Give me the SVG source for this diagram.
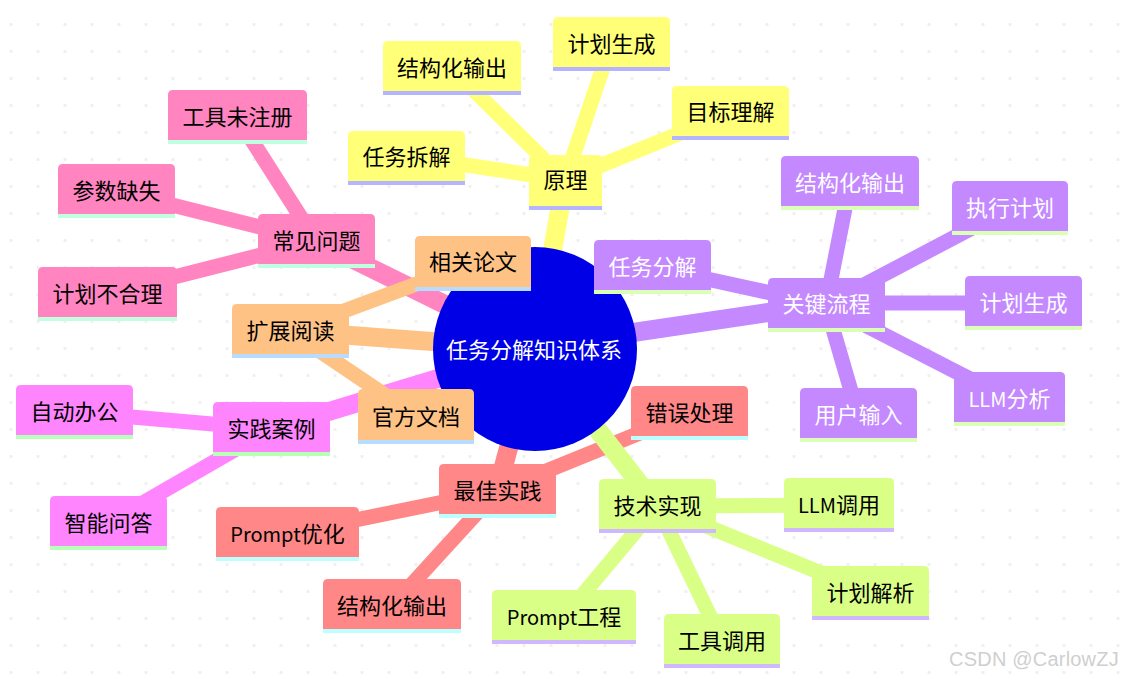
<svg xmlns="http://www.w3.org/2000/svg" width="1122" height="678" viewBox="0 0 1122 678">
<style>
text{font-family:"Noto Sans CJK SC","Noto Sans",sans-serif;font-size:22px;text-anchor:middle;fill:#000}
.lat{font-size:20px}
.e{fill:none;stroke-linecap:butt}
.l1{stroke-width:19}.l2{stroke-width:15}
.y .b{fill:#ffff78}.y .s{fill:#b4b4ff}
.p .b{fill:#c489ff}.p .s{fill:#dcffb8}.p text{fill:#fff}
.k .b{fill:#ff84c0}.k .s{fill:#c0ffe0}
.o .b{fill:#ffc285}.o .s{fill:#b8dcff}
.m .b{fill:#ff85ff}.m .s{fill:#b8ffb8}
.r .b{fill:#ff8787}.r .s{fill:#bbffff}
.g .b{fill:#d9ff87}.g .s{fill:#d0b8ff}
.ey{stroke:#ffff78}.ep{stroke:#c489ff}.ek{stroke:#ff84c0}.eo{stroke:#ffc285}.em{stroke:#ff85ff}.er{stroke:#ff8787}.eg{stroke:#d9ff87}
</style>
<defs>
<pattern id="dots" width="27" height="27" patternUnits="userSpaceOnUse" x="-2.5" y="-4"><rect x="12" y="0" width="3" height="3" fill="#f0f0f0"/></pattern>
</defs>
<rect width="1122" height="678" fill="#fff"/>
<rect width="1122" height="678" fill="url(#dots)"/>
<g id="connectors">
<line class="e l1 ey" x1="535" y1="349" x2="565" y2="180"/>
<line class="e l2 ey" x1="565" y1="180" x2="406" y2="156"/>
<line class="e l2 ey" x1="565" y1="180" x2="451" y2="68"/>
<line class="e l2 ey" x1="565" y1="180" x2="611" y2="44"/>
<line class="e l2 ey" x1="565" y1="180" x2="730" y2="113"/>
<line class="e l1 ep" x1="535" y1="347" x2="826" y2="304"/>
<line class="e l2 ep" x1="826" y1="305" x2="652" y2="267"/>
<line class="e l2 ep" x1="826" y1="305" x2="850" y2="183"/>
<line class="e l2 ep" x1="826" y1="305" x2="1010" y2="208"/>
<line class="e l2 ep" x1="826" y1="303" x2="1023" y2="303"/>
<line class="e l2 ep" x1="826" y1="305" x2="1009" y2="399"/>
<line class="e l2 ep" x1="826" y1="305" x2="858" y2="415"/>
<line class="e l1 ek" x1="535" y1="349" x2="316" y2="241"/>
<line class="e l2 ek" x1="316" y1="241" x2="237" y2="117"/>
<line class="e l2 ek" x1="316" y1="241" x2="116" y2="191"/>
<line class="e l2 ek" x1="316" y1="241" x2="107" y2="294"/>
<line class="e l1 em" x1="535" y1="349" x2="271" y2="429"/>
<line class="e l2 em" x1="271" y1="429" x2="74" y2="412"/>
<line class="e l2 em" x1="271" y1="429" x2="108" y2="523"/>
<line class="e l1 eo" x1="535" y1="349" x2="290" y2="331"/>
<line class="e l2 eo" x1="290" y1="331" x2="473" y2="263"/>
<line class="e l2 eo" x1="290" y1="331" x2="416" y2="416"/>
<line class="e l1 er" x1="535" y1="349" x2="497" y2="491"/>
<line class="e l2 er" x1="497" y1="491" x2="689" y2="413"/>
<line class="e l2 er" x1="497" y1="491" x2="287" y2="534"/>
<line class="e l2 er" x1="497" y1="491" x2="392" y2="606"/>
<line class="e l1 eg" x1="535" y1="349" x2="657" y2="506"/>
<line class="e l2 eg" x1="657" y1="506" x2="839" y2="505"/>
<line class="e l2 eg" x1="657" y1="506" x2="870" y2="593"/>
<line class="e l2 eg" x1="657" y1="506" x2="722" y2="641"/>
<line class="e l2 eg" x1="657" y1="506" x2="564" y2="617"/>
</g>
<g id="root"><circle cx="535" cy="349" r="102" fill="#0000e6"/><text x="534" y="358" style="fill:#fff">任务分解知识体系</text></g>
<g id="n-yuanli" class="y" transform="translate(529,155)"><path class="b" d="M0 51V5q0-5 5-5h63q5 0 5 5v46z"/><rect class="s" y="51" width="73" height="4"/><text x="36.500" y="33">原理</text></g>
<g id="n-rwcj" class="y" transform="translate(348,131)"><path class="b" d="M0 50V5q0-5 5-5h107q5 0 5 5v45z"/><rect class="s" y="50" width="117" height="4"/><text x="58.500" y="34">任务拆解</text></g>
<g id="n-jgh1" class="y" transform="translate(383,41)"><path class="b" d="M0 50V5q0-5 5-5h128q5 0 5 5v45z"/><rect class="s" y="50" width="138" height="4"/><text x="69" y="34.500">结构化输出</text></g>
<g id="n-jh1" class="y" transform="translate(553,17)"><path class="b" d="M0 50V5q0-5 5-5h107q5 0 5 5v45z"/><rect class="s" y="50" width="117" height="4"/><text x="58.500" y="34.500">计划生成</text></g>
<g id="n-mb" class="y" transform="translate(672,86)"><path class="b" d="M0 50V5q0-5 5-5h107q5 0 5 5v45z"/><rect class="s" y="50" width="117" height="4"/><text x="58.500" y="34">目标理解</text></g>
<g id="n-gjlc" class="p" transform="translate(768,278)"><path class="b" d="M0 50V5q0-5 5-5h107q5 0 5 5v45z"/><rect class="s" y="50" width="117" height="4"/><text x="58.500" y="34">关键流程</text></g>
<g id="n-rwfj" class="p" transform="translate(594,240)"><path class="b" d="M0 50V5q0-5 5-5h107q5 0 5 5v45z"/><rect class="s" y="50" width="117" height="4"/><text x="58.500" y="34.500">任务分解</text></g>
<g id="n-jgh2" class="p" transform="translate(781,156)"><path class="b" d="M0 50V5q0-5 5-5h128q5 0 5 5v45z"/><rect class="s" y="50" width="138" height="4"/><text x="69" y="34.500">结构化输出</text></g>
<g id="n-zx" class="p" transform="translate(952,181)"><path class="b" d="M0 50V5q0-5 5-5h106q5 0 5 5v45z"/><rect class="s" y="50" width="116" height="4"/><text x="58" y="34.500">执行计划</text></g>
<g id="n-jh2" class="p" transform="translate(965,276)"><path class="b" d="M0 50V5q0-5 5-5h107q5 0 5 5v45z"/><rect class="s" y="50" width="117" height="4"/><text x="58.500" y="34.500">计划生成</text></g>
<g id="n-llmfx" class="p" transform="translate(954,372)"><path class="b" d="M0 50V5q0-5 5-5h101q5 0 5 5v45z"/><rect class="s" y="50" width="111" height="4"/><text x="55.500" y="34.500"><tspan class="lat">LLM</tspan>分析</text></g>
<g id="n-yh" class="p" transform="translate(800,388)"><path class="b" d="M0 50V5q0-5 5-5h107q5 0 5 5v45z"/><rect class="s" y="50" width="117" height="4"/><text x="58.500" y="34.500">用户输入</text></g>
<g id="n-cjwt" class="k" transform="translate(258,214)"><path class="b" d="M0 50V5q0-5 5-5h107q5 0 5 5v45z"/><rect class="s" y="50" width="117" height="4"/><text x="58.500" y="34.500">常见问题</text></g>
<g id="n-gj" class="k" transform="translate(168,90)"><path class="b" d="M0 50V5q0-5 5-5h129q5 0 5 5v45z"/><rect class="s" y="50" width="139" height="4"/><text x="69.500" y="34.500">工具未注册</text></g>
<g id="n-cs" class="k" transform="translate(58,164)"><path class="b" d="M0 50V5q0-5 5-5h107q5 0 5 5v45z"/><rect class="s" y="50" width="117" height="4"/><text x="58.500" y="34.500">参数缺失</text></g>
<g id="n-jhbhl" class="k" transform="translate(38,267)"><path class="b" d="M0 50V5q0-5 5-5h129q5 0 5 5v45z"/><rect class="s" y="50" width="139" height="4"/><text x="69.500" y="34.500">计划不合理</text></g>
<g id="n-kz" class="o" transform="translate(232,304)"><path class="b" d="M0 50V5q0-5 5-5h107q5 0 5 5v45z"/><rect class="s" y="50" width="117" height="4"/><text x="58.500" y="34.500">扩展阅读</text></g>
<g id="n-xg" class="o" transform="translate(415,236)"><path class="b" d="M0 51V5q0-5 5-5h106q5 0 5 5v46z"/><rect class="s" y="51" width="116" height="4"/><text x="58" y="34">相关论文</text></g>
<g id="n-gf" class="o" transform="translate(358,389)"><path class="b" d="M0 51V5q0-5 5-5h106q5 0 5 5v46z"/><rect class="s" y="51" width="116" height="4"/><text x="58" y="36">官方文档</text></g>
<g id="n-sj" class="m" transform="translate(213,402)"><path class="b" d="M0 50V5q0-5 5-5h107q5 0 5 5v45z"/><rect class="s" y="50" width="117" height="4"/><text x="58.500" y="34.500">实践案例</text></g>
<g id="n-zd" class="m" transform="translate(16,385)"><path class="b" d="M0 50V5q0-5 5-5h107q5 0 5 5v45z"/><rect class="s" y="50" width="117" height="4"/><text x="58.500" y="34.500">自动办公</text></g>
<g id="n-zn" class="m" transform="translate(50,496)"><path class="b" d="M0 50V5q0-5 5-5h107q5 0 5 5v45z"/><rect class="s" y="50" width="117" height="4"/><text x="58.500" y="34.500">智能问答</text></g>
<g id="n-zj" class="r" transform="translate(439,464)"><path class="b" d="M0 50V5q0-5 5-5h107q5 0 5 5v45z"/><rect class="s" y="50" width="117" height="4"/><text x="58.500" y="34.500">最佳实践</text></g>
<g id="n-cw" class="r" transform="translate(631,386)"><path class="b" d="M0 50V5q0-5 5-5h107q5 0 5 5v45z"/><rect class="s" y="50" width="117" height="4"/><text x="58.500" y="34.500">错误处理</text></g>
<g id="n-pyh" class="r" transform="translate(216,507)"><path class="b" d="M0 50V5q0-5 5-5h133q5 0 5 5v45z"/><rect class="s" y="50" width="143" height="4"/><text x="71.500" y="34.500"><tspan class="lat">Prompt</tspan>优化</text></g>
<g id="n-jgh3" class="r" transform="translate(323,579)"><path class="b" d="M0 50V5q0-5 5-5h128q5 0 5 5v45z"/><rect class="s" y="50" width="138" height="4"/><text x="69" y="34.500">结构化输出</text></g>
<g id="n-js" class="g" transform="translate(599,479)"><path class="b" d="M0 50V5q0-5 5-5h107q5 0 5 5v45z"/><rect class="s" y="50" width="117" height="4"/><text x="58.500" y="34.500">技术实现</text></g>
<g id="n-llmdy" class="g" transform="translate(784,478)"><path class="b" d="M0 50V5q0-5 5-5h100q5 0 5 5v45z"/><rect class="s" y="50" width="110" height="4"/><text x="55" y="34.500"><tspan class="lat">LLM</tspan>调用</text></g>
<g id="n-jhjx" class="g" transform="translate(812,566)"><path class="b" d="M0 50V5q0-5 5-5h107q5 0 5 5v45z"/><rect class="s" y="50" width="117" height="4"/><text x="58.500" y="34.500">计划解析</text></g>
<g id="n-gjdy" class="g" transform="translate(664,614)"><path class="b" d="M0 50V5q0-5 5-5h106q5 0 5 5v45z"/><rect class="s" y="50" width="116" height="4"/><text x="58" y="34.500">工具调用</text></g>
<g id="n-pgc" class="g" transform="translate(492,590)"><path class="b" d="M0 50V5q0-5 5-5h134q5 0 5 5v45z"/><rect class="s" y="50" width="144" height="4"/><text x="72" y="34.500"><tspan class="lat">Prompt</tspan>工程</text></g>
<text x="1034" y="666" style="font-family:'Liberation Sans',sans-serif;font-size:20px;fill:#cfcfcf;letter-spacing:.2px">CSDN @CarlowZJ</text>
</svg>
